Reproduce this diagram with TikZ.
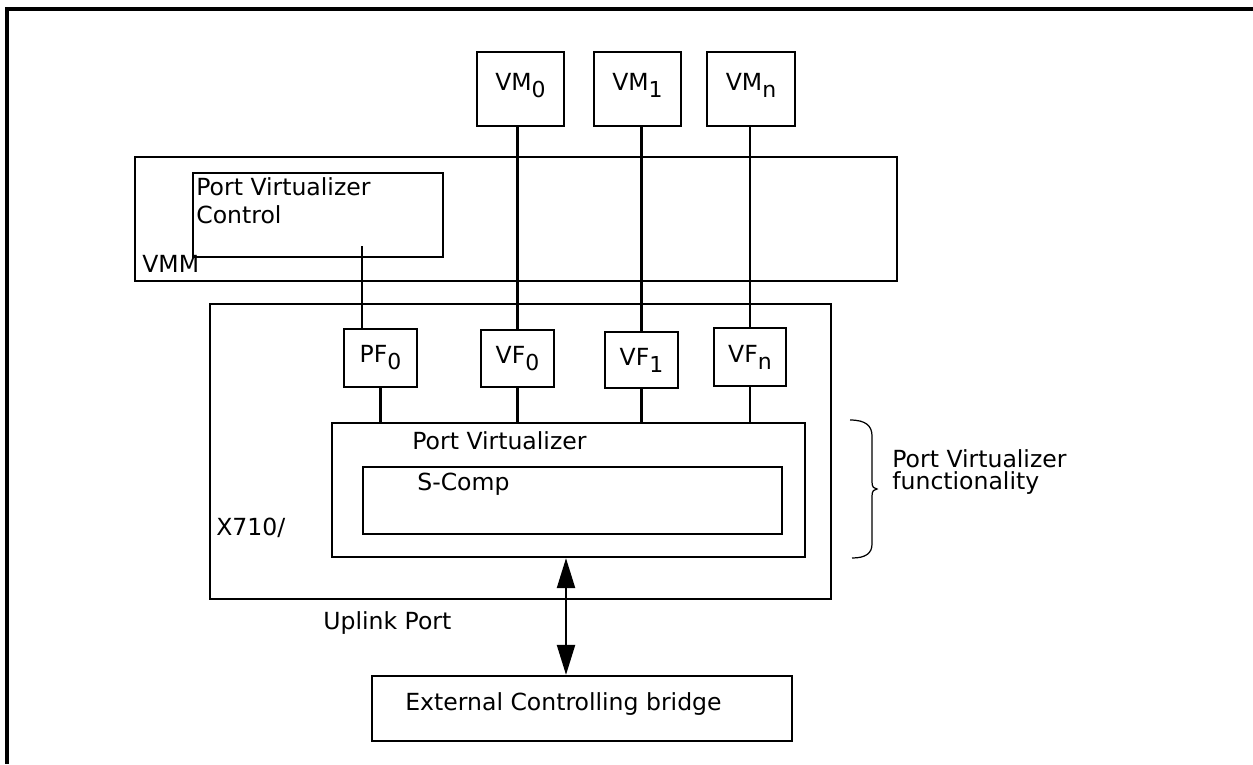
\documentclass[tikz,border=0pt]{standalone}
\usepackage{fontspec}
\setmainfont{DejaVu Sans}
\usetikzlibrary{arrows.meta,calc}

\newcommand{\lowsub}[1]{\raisebox{-0.3em}{\fontsize{12.5}{12.5}\selectfont #1}}

\begin{document}
\begin{tikzpicture}[>={Triangle[length=0.6cm,width=0.36cm]}, x=0.02cm, y=-0.02cm,
	font=\fontsize{13.4}{16}\selectfont,
	pbox/.style 2 args={draw, line width=1.3pt, minimum width=#1*0.02cm, minimum height=#2*0.02cm, inner sep=0pt},
	wire/.style={line width=1.3pt},
	txt/.style={inner sep=0pt, anchor=base west}]
	\useasboundingbox (0,0) rectangle (1253,764);
	\draw[line width=2.2pt] (1253,9) -- (7,9) -- (7,764);
	% virtual machines
	\node[pbox={87}{74}, text depth=0.3cm] (vm0) at (520.5,89) {VM\lowsub{0}};
	\node[pbox={87}{74}, text depth=0.3cm] (vm1) at (637.5,89) {VM\lowsub{1}};
	\node[pbox={88}{74}, text depth=0.3cm] (vmn) at (751,89) {VM\lowsub{n}};
	% hypervisor
	\node[pbox={762}{124}] (vmm) at (516,219) {};
	\node[pbox={250}{84}] (pvc) at (318,215) {};
	\node[txt, align=left, anchor=north west] (pvctext) at (196,177) {Port Virtualizer\\Control};
	\node[txt] (vmmtext) at (142,272) {VMM};
	% adapter
	\node[pbox={621}{295}] (x710) at (520.5,451.5) {};
	\node[txt] (x710text) at (216,535) {X710/};
	\node[pbox={73}{58}] (pf0) at (380.5,358) {PF\lowsub{0}};
	\node[pbox={73}{57}] (vf0) at (517.5,358.5) {VF\lowsub{0}};
	\node[pbox={73}{56}] (vf1) at (641.5,360) {VF\lowsub{1}};
	\node[pbox={72}{58}] (vfn) at (750,357) {VF\lowsub{n}};
	\node[pbox={473}{134}] (pv) at (568.5,490) {};
	\node[txt] (pvtext) at (412,449) {Port Virtualizer};
	\node[pbox={419}{67}] (scomp) at (572.5,500.5) {};
	\node[txt] (scomptext) at (417,490) {S-Comp};
	\node[txt] (uplink) at (323,629) {Uplink Port};
	% bridge
	\node[pbox={420}{65}] (ecb) at (582,708.5) {};
	\node[txt] (ecbtext) at (405,710) {External Controlling bridge};
	% wires
	\coordinate (pvctap) at (362,246);
	\draw[wire] (pvctap) -- (pvctap |- pf0.north);
	\draw[wire] (vf0.north) -- (vf0.north |- vm0.south);
	\draw[wire] (vf1.north) -- (vf1.north |- vm1.south);
	\draw[wire] (vfn.north) -- (vfn.north |- vmn.south);
	\draw[wire] (pf0.south) -- (pf0.south |- pv.north);
	\draw[wire] (vf0.south) -- (vf0.south |- pv.north);
	\draw[wire] (vf1.south) -- (vf1.south |- pv.north);
	\draw[wire] (vfn.south) -- (vfn.south |- pv.north);
	\coordinate (upx) at (566,0);
	\draw[wire, <->] (upx |- pv.south) -- (upx |- ecb.north);
	% brace
	\draw[line width=0.7pt] (850,420) .. controls (866,420) and (872,426) .. (872,436) -- (872,482)
		.. controls (872,487) and (874,489) .. (877,489) .. controls (874,489) and (872,491) .. (872,496)
		-- (872,544) .. controls (872,553) and (866,558) .. (852,558);
	\node[txt, align=left, anchor=north west, font=\fontsize{13.4}{12.5}\selectfont] (pvftext) at (892,449) {Port Virtualizer\\functionality};
\end{tikzpicture}
\end{document}
